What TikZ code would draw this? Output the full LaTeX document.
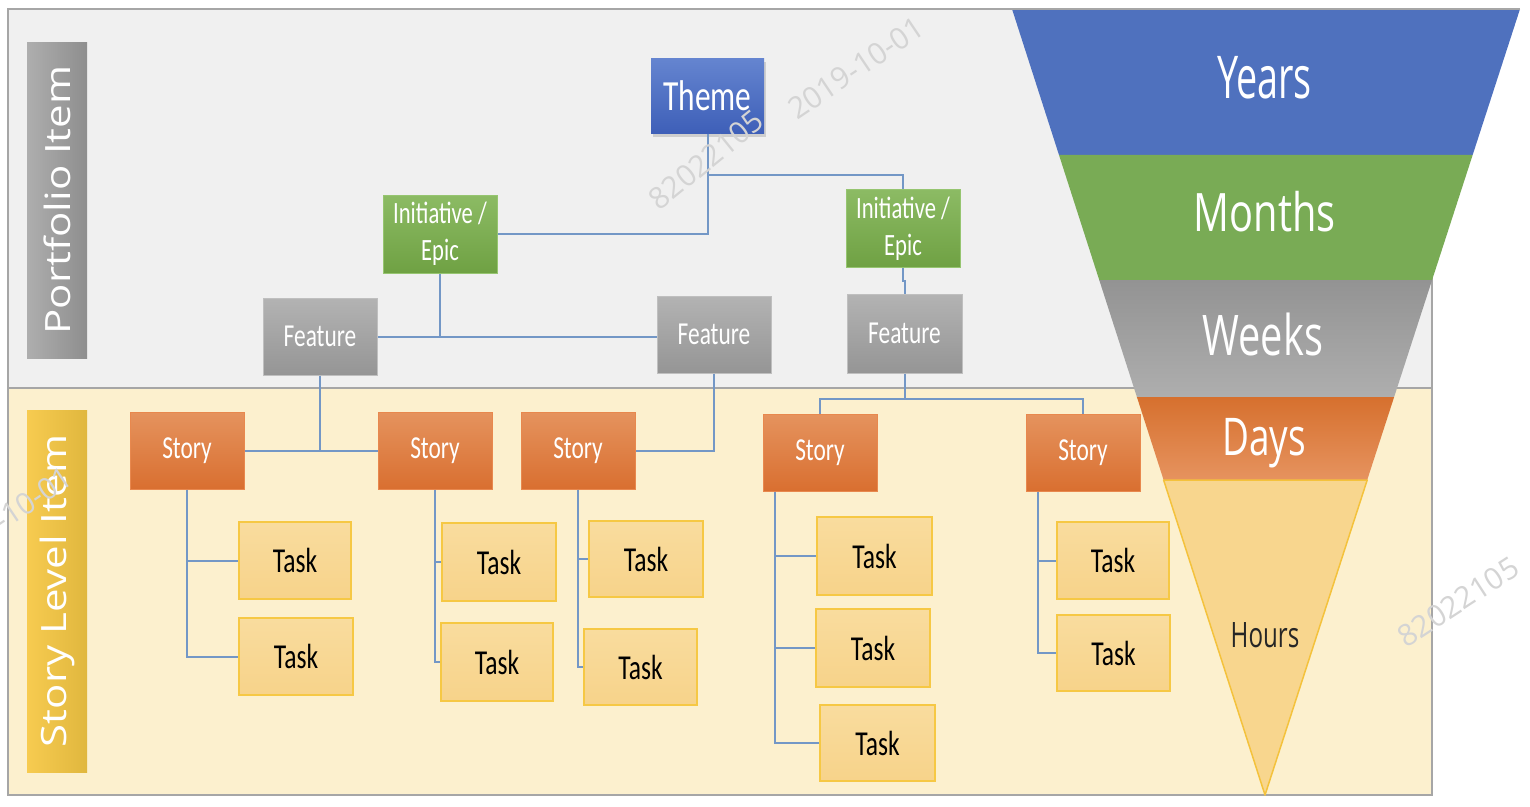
\documentclass[tikz,border=0pt]{standalone}
\usepackage{fontspec}
\usepackage{graphicx}
\usetikzlibrary{shadows,calc}
\newfontfamily\boxfont{Carlito}
\newfontfamily\segfont{Open Sans}
\newcommand\sq[1]{\scalebox{0.73}[1]{#1}}
\definecolor{topbg}{HTML}{F0F0F0}
\definecolor{botbg}{HTML}{FCF0CE}
\definecolor{framec}{HTML}{A6A6A6}
\definecolor{linkc}{HTML}{7397C6}
\definecolor{thT}{HTML}{6585D0}
\definecolor{thB}{HTML}{3E5FB8}
\definecolor{inT}{HTML}{8CBB64}
\definecolor{inB}{HTML}{6FA143}
\definecolor{inD}{HTML}{96C570}
\definecolor{feT}{HTML}{B3B3B3}
\definecolor{feB}{HTML}{959595}
\definecolor{feD}{HTML}{BFBFBF}
\definecolor{stT}{HTML}{E5935E}
\definecolor{stB}{HTML}{D96F30}
\definecolor{stD}{HTML}{E8884E}
\definecolor{tkT}{HTML}{F9DC9E}
\definecolor{tkB}{HTML}{F7D38A}
\definecolor{tkD}{HTML}{F6C844}
\definecolor{yrs}{HTML}{4F71BE}
\definecolor{mon}{HTML}{79AB55}
\definecolor{wkT}{HTML}{939393}
\definecolor{wkB}{HTML}{AEAEAE}
\definecolor{dyT}{HTML}{D6702E}
\definecolor{dyB}{HTML}{E6935F}
\definecolor{hrs}{HTML}{F8D68E}
\definecolor{hrsD}{HTML}{F4C23C}
\definecolor{pfL}{HTML}{AEAEAE}
\definecolor{pfR}{HTML}{8E8E8E}
\definecolor{slL}{HTML}{F7CB50}
\definecolor{slR}{HTML}{E0B73E}
\definecolor{wmc}{HTML}{D4D4D4}
\definecolor{hrtext}{HTML}{262626}
\begin{document}
\begin{tikzpicture}[x=1pt,y=-1pt,
  box/.style={rectangle, inner sep=0pt, minimum width=114pt, minimum height=77pt, line width=1pt, align=center},
  themebox/.style={box, minimum width=113pt, minimum height=75pt, top color=thT, bottom color=thB, text=white,
     font=\boxfont\fontsize{43}{46}\selectfont, drop shadow={shadow xshift=2pt, shadow yshift=-4pt, opacity=0.3}},
  initbox/.style={box, minimum height=78pt, top color=inT, bottom color=inB, draw=inD, text=white,
     font=\boxfont\fontsize{31}{37}\selectfont},
  featbox/.style={box, top color=feT, bottom color=feB, draw=feD, text=white,
     font=\boxfont\fontsize{32}{36}\selectfont},
  storybox/.style={box, top color=stT, bottom color=stB, draw=stD, text=white,
     font=\boxfont\fontsize{32}{36}\selectfont},
  taskbox/.style={box, top color=tkT, bottom color=tkB, draw=tkD, line width=1.5pt, text=black,
     font=\boxfont\fontsize{35}{38}\selectfont},
  sidelabel/.style={rectangle, rotate=90, inner sep=0pt, minimum height=60pt, text=white,
     font=\segfont\fontsize{42}{42}\selectfont},
  funtext/.style={anchor=base, inner sep=0pt, text=white},
  wmark/.style={inner sep=0pt, text=wmc, font=\segfont\fontsize{30}{30}\selectfont},
  link/.style={draw=linkc, line width=2pt}
]
\useasboundingbox (0,0) rectangle (1530,806);
% backgrounds
\fill[white] (0,0) rectangle (1530,806);
\fill[topbg] (8,9) rectangle (1432,388);
\fill[botbg] (8,388) rectangle (1432,795);
\draw[framec, line width=2pt] (8,9) rectangle (1432,795);
\draw[framec, line width=2pt] (8,388) -- (1432,388);

% funnel
\coordinate (fTL) at (1012,9);
\coordinate (fTR) at (1520,9);
\coordinate (fA) at (1265,795);
\fill[yrs] (fTL) -- (fTR) -- ($(fTR)!0.18575!(fA)$) -- ($(fTL)!0.18575!(fA)$) -- cycle;
\fill[mon] ($(fTL)!0.18575!(fA)$) -- ($(fTR)!0.18575!(fA)$) -- ($(fTR)!0.34478!(fA)$) -- ($(fTL)!0.34478!(fA)$) -- cycle;
\shade[top color=wkT, bottom color=wkB] ($(fTL)!0.34478!(fA)$) -- ($(fTR)!0.34478!(fA)$) -- ($(fTR)!0.49364!(fA)$) -- ($(fTL)!0.49364!(fA)$) -- cycle;
\shade[top color=dyT, bottom color=dyB] ($(fTL)!0.49364!(fA)$) -- ($(fTR)!0.49364!(fA)$) -- ($(fTR)!0.59924!(fA)$) -- ($(fTL)!0.59924!(fA)$) -- cycle;
\filldraw[fill=hrs, draw=hrsD, line width=1.5pt, line join=round] ($(fTL)!0.59924!(fA)$) -- ($(fTR)!0.59924!(fA)$) -- (fA) -- cycle;
\draw[framec, line width=2pt] (8,9) -- (1520,9);

% funnel labels
\node[funtext, font=\segfont\fontsize{59}{60}\selectfont] (lyears) at (1264.5,98) {\scalebox{0.64}[1]{Years}};
\node[funtext, font=\segfont\fontsize{53}{54}\selectfont] (lmonths) at (1264.7,231.5) {\scalebox{0.75}[1]{Months}};
\node[funtext, font=\segfont\fontsize{56}{57}\selectfont] (lweeks) at (1262.8,355) {\scalebox{0.71}[1]{Weeks}};
\node[funtext, font=\segfont\fontsize{52}{53}\selectfont] (ldays) at (1264,455) {\scalebox{0.71}[1]{Days}};
\node[funtext, text=hrtext, font=\segfont\fontsize{35}{36}\selectfont] (lhours) at (1265,647) {\scalebox{0.69}[1]{Hours}};

% side labels
\node[sidelabel, minimum width=316pt, left color=pfL, right color=pfR] (pf) at (57,200) {\scalebox{1}[0.83]{Portfolio Item}};
\node[sidelabel, minimum width=362pt, left color=slL, right color=slR] (sl) at (57,591) {\scalebox{1}[0.83]{Story Level Item}};

% hierarchy nodes
\node[themebox] (th) at (707.5,95.5) {\sq{Theme}};
\node[initbox] (i1) at (440,234) {\sq{Initiative /}\\\sq{Epic}};
\node[initbox] (i2) at (903,228.5) {\sq{Initiative /}\\\sq{Epic}};
\node[featbox] (f1) at (320,336.5) {\sq{Feature}};
\node[featbox] (f2) at (714,334.5) {\sq{Feature}};
\node[featbox, minimum width=115pt, minimum height=79pt] (f3) at (904.5,333.5) {\sq{Feature}};
\node[storybox] (s1) at (187,450.5) {\sq{Story}};
\node[storybox] (s2) at (435,450.5) {\sq{Story}};
\node[storybox] (s3) at (578,450.5) {\sq{Story}};
\node[storybox] (s4) at (820,452.5) {\sq{Story}};
\node[storybox] (s5) at (1083,452.5) {\sq{Story}};
\node[taskbox, minimum width=112pt] (t11) at (295,560.5) {\sq{Task}};
\node[taskbox] (t12) at (296,656.5) {\sq{Task}};
\node[taskbox, minimum height=78pt] (t21) at (499,562) {\sq{Task}};
\node[taskbox, minimum width=112pt, minimum height=78pt] (t22) at (497,662) {\sq{Task}};
\node[taskbox, minimum height=76pt] (t31) at (646,559) {\sq{Task}};
\node[taskbox, minimum width=113pt, minimum height=76pt] (t32) at (640.5,667) {\sq{Task}};
\node[taskbox, minimum width=115pt, minimum height=78pt] (t41) at (874.5,556) {\sq{Task}};
\node[taskbox, minimum height=78pt] (t42) at (873,648) {\sq{Task}};
\node[taskbox, minimum width=115pt, minimum height=76pt] (t43) at (877.5,743) {\sq{Task}};
\node[taskbox, minimum width=112pt] (t51) at (1113,560.5) {\sq{Task}};
\node[taskbox, minimum width=113pt, minimum height=76pt] (t52) at (1113.5,653) {\sq{Task}};

% connectors
\draw[link] (th.south) |- (i1.east);
\draw[link] (th.south) -- ++(0,41) -| (i2.north);
\draw[link] (i1.south) -- (i1.south |- f1.east);
\draw[link] (f1.east) -- (f1.east -| f2.west);
\draw[link] (i2.south) -- ++(0,13) -| (f3.north);
\draw[link] (f1.south) -- (f1.south |- s1.east);
\draw[link] (s1.east) -- (s2.west);
\draw[link] (f2.south) |- (s3.east);
\draw[link] (f3.south) -- ++(0,26);
\draw[link] (s4.north) -- ++(0,-15) -| (s5.north);
\draw[link] (s1.south) |- (t11.west);
\draw[link] (s1.south) |- (t12.west);
\draw[link] (s2.south) |- (t21.west);
\draw[link] (s2.south) |- (t22.west);
\draw[link] (s3.south) |- (t31.west);
\draw[link] (s3.south) |- (t32.west);
\draw[link] ([xshift=-45pt]s4.south) |- (t41.west);
\draw[link] ([xshift=-45pt]s4.south) |- (t42.west);
\draw[link] ([xshift=-45pt]s4.south) |- (t43.west);
\draw[link] ([xshift=-45pt]s5.south) |- (t51.west);
\draw[link] ([xshift=-45pt]s5.south) |- (t52.west);

% watermarks
\node[wmark, rotate=39] (wm1) at (706,160) {82022105};
\node[wmark, rotate=34] (wm2) at (856,68) {2019-10-01};
\node[wmark, rotate=33] (wm3) at (1458,602) {82022105};
\node[wmark, rotate=34] (wm4) at (4,518) {2019-10-01};
\end{tikzpicture}
\end{document}
